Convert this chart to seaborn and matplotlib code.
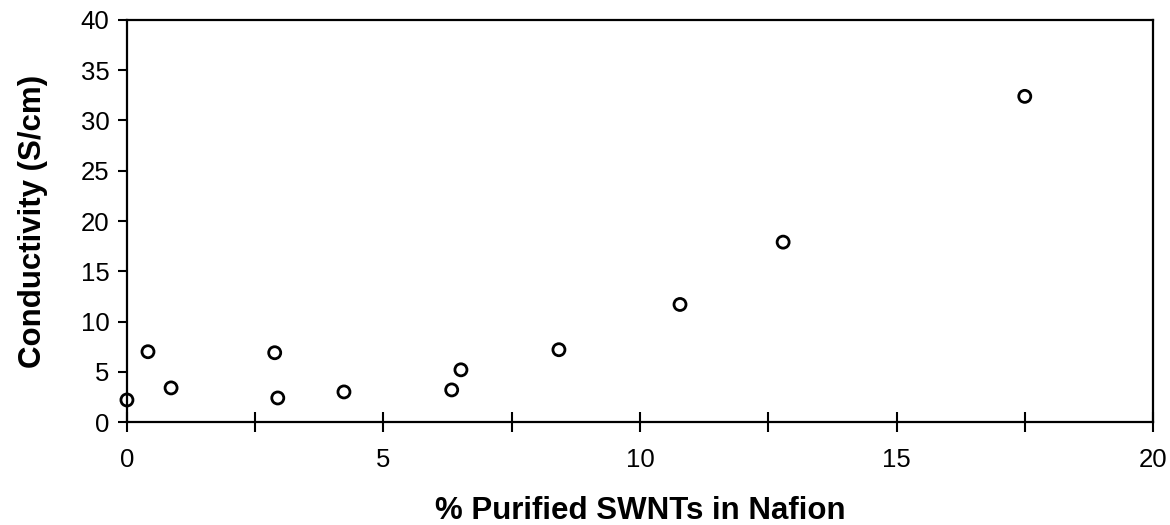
import matplotlib
matplotlib.use("Agg")
import matplotlib.pyplot as plt
import seaborn as sns
import pandas as pd
from matplotlib.ticker import MultipleLocator

swnt_pct = [0.0, 0.41, 0.86, 2.88, 2.94, 4.23, 6.33, 6.51, 8.42, 10.78, 12.79, 17.5]
conductivity = [2.2, 7.0, 3.4, 6.9, 2.4, 3.0, 3.2, 5.2, 7.2, 11.7, 17.9, 32.4]
x_ticks = [0, 5, 10, 15, 20]
y_ticks = [0, 5, 10, 15, 20, 25, 30, 35, 40]

df = pd.DataFrame({"x": swnt_pct, "y": conductivity})

sns.set_style("white")
plt.rcParams['font.family'] = ['Liberation Sans', 'DejaVu Sans']
plt.rcParams['text.color'] = 'black'
plt.rcParams['axes.labelcolor'] = 'black'

fig = plt.figure(figsize=(11.7, 5.25), dpi=100)
ax = fig.add_axes([0.1085, 0.196, 0.877, 0.766])

sns.scatterplot(data=df, x="x", y="y", ax=ax, marker="o", s=75,
                facecolor="none", edgecolor="black", linewidth=2.0, clip_on=False, zorder=5)

ax.set_xlim(0, 20)
ax.set_ylim(0, 40)
ax.set_xticks(x_ticks)
ax.set_yticks(y_ticks)
ax.xaxis.set_minor_locator(MultipleLocator(2.5))
ax.tick_params(axis="x", which="both", direction="inout", length=14, width=1.5, labelsize=18.5, pad=12, colors="black", bottom=True)
ax.tick_params(axis="y", which="major", direction="out", length=6.5, width=1.5, labelsize=18.5, pad=6, colors="black", left=True)

for sp in ax.spines.values():
    sp.set_visible(True)
    sp.set_color("black")
    sp.set_linewidth(1.6)

ax.set_xlabel("% Purified SWNTs in Nafion", fontsize=22.5, fontweight="bold", labelpad=17, color="black")
ax.set_ylabel("Conductivity (S/cm)", fontsize=22.5, fontweight="bold", labelpad=24, color="black")

fig.savefig("out.png", dpi=100)
